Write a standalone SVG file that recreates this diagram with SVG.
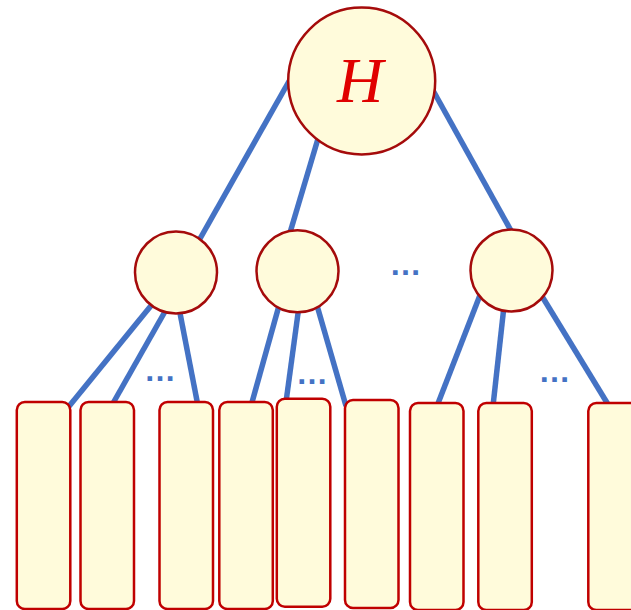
<svg xmlns="http://www.w3.org/2000/svg" width="631" height="610" viewBox="0 0 631 610">
  <style>
    .edge { stroke: #4472C4; stroke-width: 5.5; stroke-linecap: butt; fill: none; }
    .inner { fill: #FFFBDB; stroke: #A50B0B; stroke-width: 2.5; }
    .leaf { fill: #FFFBDB; stroke: #C00000; stroke-width: 2.5; }
    .dots { fill: #4472C4; font-family: "Liberation Sans", Arial, sans-serif; font-weight: bold; font-size: 32px; text-anchor: middle; }
    .label { fill: #E00000; font-family: "Liberation Serif", "Times New Roman", serif; font-style: italic; font-size: 64px; text-anchor: middle; }
  </style>

  <!-- tree edges, drawn beneath the nodes -->
  <g id="connectors">
    <line class="edge" x1="292" y1="76" x2="197" y2="244"/>
    <line class="edge" x1="320" y1="132" x2="289" y2="236"/>
    <line class="edge" x1="430" y1="85" x2="514" y2="236"/>

    <line class="edge" x1="154" y1="302" x2="66" y2="410"/>
    <line class="edge" x1="167" y1="308" x2="112" y2="405"/>
    <line class="edge" x1="179" y1="308" x2="198" y2="406"/>

    <line class="edge" x1="280" y1="302" x2="251" y2="406"/>
    <line class="edge" x1="299" y1="306" x2="286" y2="402"/>
    <line class="edge" x1="316" y1="302" x2="346" y2="406"/>

    <line class="edge" x1="482" y1="290" x2="437" y2="406"/>
    <line class="edge" x1="504" y1="306" x2="493" y2="406"/>
    <line class="edge" x1="540" y1="293" x2="609" y2="406"/>
  </g>

  <!-- root -->
  <g id="root">
    <circle class="inner" cx="361.7" cy="81" r="73.5"/>
    <text class="label" x="360" y="102">H</text>
  </g>

  <!-- second level -->
  <g id="child-1"><circle class="inner" cx="176" cy="272.5" r="41"/></g>
  <g id="child-2"><circle class="inner" cx="297.5" cy="271.3" r="41"/></g>
  <g id="child-3"><circle class="inner" cx="511.5" cy="270.5" r="41"/></g>

  <!-- leaves -->
  <g id="leaf-1"><rect class="leaf" x="16.8" y="402" width="53.5" height="207" rx="8"/></g>
  <g id="leaf-2"><rect class="leaf" x="80.5" y="402" width="53.5" height="207" rx="8"/></g>
  <g id="leaf-3"><rect class="leaf" x="159.5" y="402" width="53.5" height="207" rx="8"/></g>
  <g id="leaf-4"><rect class="leaf" x="219.3" y="402" width="53.5" height="207" rx="8"/></g>
  <g id="leaf-5"><rect class="leaf" x="276.8" y="398.8" width="53.5" height="208" rx="8"/></g>
  <g id="leaf-6"><rect class="leaf" x="345" y="400" width="53.5" height="208" rx="8"/></g>
  <g id="leaf-7"><rect class="leaf" x="410" y="403" width="53.5" height="207" rx="8"/></g>
  <g id="leaf-8"><rect class="leaf" x="478.3" y="403" width="53.5" height="207" rx="8"/></g>
  <g id="leaf-9"><rect class="leaf" x="588.3" y="403" width="53.5" height="207" rx="8"/></g>

  <!-- elided siblings -->
  <g id="ellipses">
    <text class="dots" x="160" y="381">…</text>
    <text class="dots" x="312" y="384">…</text>
    <text class="dots" x="405.5" y="275">…</text>
    <text class="dots" x="554.5" y="382">…</text>
  </g>
</svg>
